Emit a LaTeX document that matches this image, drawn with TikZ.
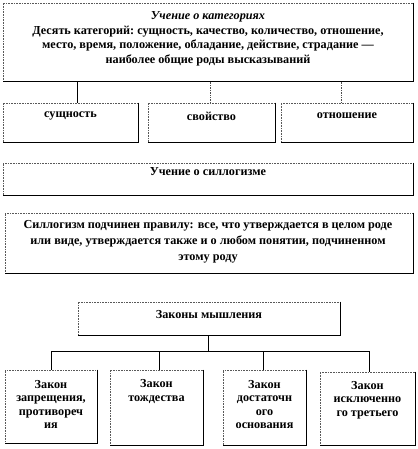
\documentclass[tikz,border=0pt]{standalone}
\usepackage{fontspec}
\setmainfont{Liberation Serif}
\begin{document}
\begin{tikzpicture}[x=1pt,y=-1pt,
  box/.style={draw=black!65, densely dotted, line width=0.6pt, inner sep=0pt},
  edgeline/.style={draw=black, line width=0.7pt},
  txt/.style={inner sep=0pt, align=center, font=\bfseries\fontsize{12.2}{14.5}\selectfont},
  smalltxt/.style={txt, font=\bfseries\fontsize{12.2}{13.3}\selectfont},
  conn/.style={draw=black, line width=0.7pt},
  dconn/.style={draw=black!70, densely dotted, line width=0.7pt}
]
\useasboundingbox (0,0) rectangle (417,449);
% boxes
\node[box, minimum width=410pt, minimum height=78pt] (cat) at (208,42) {};
\node[box, minimum width=135pt, minimum height=39pt] (s1) at (70.5,122.5) {};
\node[box, minimum width=127pt, minimum height=39pt] (s2) at (211.5,122.5) {};
\node[box, minimum width=132pt, minimum height=39pt] (s3) at (347,122.5) {};
\node[box, minimum width=410pt, minimum height=32pt] (sylh) at (208,179) {};
\node[box, minimum width=408pt, minimum height=60pt] (sylt) at (209,243) {};
\node[box, minimum width=262pt, minimum height=33pt] (laws) at (209,318.5) {};
\node[box, minimum width=92pt, minimum height=73pt] (b1) at (51,406.5) {};
\node[box, minimum width=93pt, minimum height=75pt] (b2) at (156.5,407.5) {};
\node[box, minimum width=83pt, minimum height=75pt] (b3) at (264.5,407.5) {};
\node[box, minimum width=95pt, minimum height=73pt] (b4) at (367.5,408.5) {};
\foreach \n in {cat,s1,s2,s3,sylh,sylt,laws,b1,b2,b3,b4}
  \draw[edgeline] (\n.north east) -- (\n.south east) -- (\n.south west);
% texts
\node[txt] (catT) at (208,39) {\textit{Учение о категориях}\\
Десять категорий:\ сущность, качество, количество,\ отношение,\\
место, время, положение, обладание, действие,\ страдание —\\
наиболее общие роды высказываний};
\node[txt] (s1T) at (70.5,116) {сущность};
\node[txt] (s2T) at (211.5,116) {свойство};
\node[txt] (s3T) at (347,116) {отношение};
\node[txt] (sylhT) at (208,172) {Учение о силлогизме};
\node[txt, font=\bfseries\fontsize{12.2}{16}\selectfont] (syltT) at (208,242) {Силлогизм\ подчинен правилу: все, что утверждается в целом роде\\
или виде,\ утверждается\ также и о любом понятии, подчиненном\\
этому роду};
\node[txt] (lawsT) at (209,315) {Законы мышления};
\node[smalltxt] (b1T) at (51,404.5) {Закон\\запрещения,\\противореч\\ия};
\node[smalltxt] (b2T) at (156.5,391.5) {Закон\\тождества};
\node[smalltxt] (b3T) at (264.5,404.5) {Закон\\достаточн\\ого\\основания};
\node[smalltxt] (b4T) at (367.5,400) {Закон\\исключенно\\го третьего};
% upper connectors
\draw[conn] ([xshift=6.5pt]s1.north) -- ([xshift=6.5pt]s1.north |- cat.south);
\draw[dconn] ([xshift=-1.5pt]s2.north) -- ([xshift=-1.5pt]s2.north |- cat.south);
\draw[dconn] ([xshift=-6pt]s3.north) -- ([xshift=-6pt]s3.north |- cat.south);
% lower tree
\coordinate (bus) at (208,351);
\draw[conn] ([xshift=-1pt]laws.south) -- ([xshift=-1pt]laws.south |- bus);
\draw[conn] (b1.north) -- (b1.north |- bus) -- ([xshift=1.5pt]b4.north |- bus) -- ([xshift=1.5pt]b4.north);
\draw[conn] ([xshift=2.5pt]b2.north) -- ([xshift=2.5pt]b2.north |- bus);
\draw[conn] ([xshift=-1.5pt]b3.north) -- ([xshift=-1.5pt]b3.north |- bus);
\end{tikzpicture}
\end{document}
